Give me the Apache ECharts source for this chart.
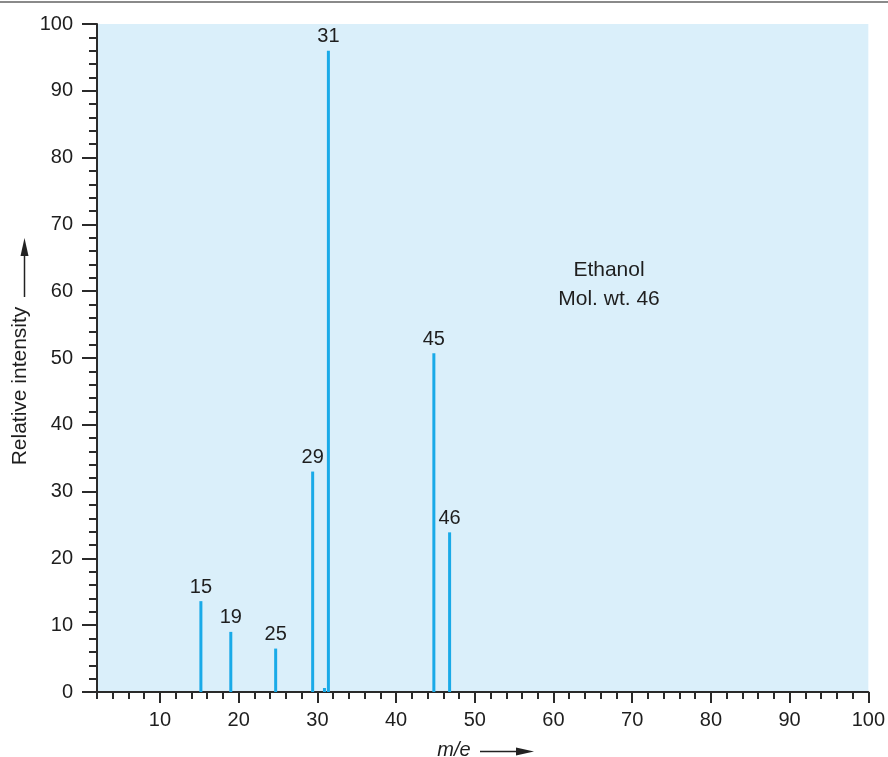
<!DOCTYPE html>
<html>
<head>
<meta charset="utf-8">
<script src="https://cdn.jsdelivr.net/npm/echarts@6/dist/echarts.min.js"></script>
<style>html,body{margin:0;padding:0;background:#fff}#c{width:888px;height:757px}</style>
</head>
<body>
<div id="c"></div>
<script>
// m/e positions as drawn, relative intensities, and peak labels
const peakX = [15.2, 19.0, 24.7, 29.4, 30.9, 31.4, 44.8, 46.8];
const peakY = [13.6, 9.0, 6.5, 33.0, 0.6, 96.0, 50.7, 23.9];
const peakLabels = ['15', '19', '25', '29', '', '31', '45', '46'];
const xMajorTicks = [10, 20, 30, 40, 50, 60, 70, 80, 90, 100];
const annotation = ['Ethanol', 'Mol. wt. 46'];

const FONT = '"Liberation Sans", Arial, Helvetica, sans-serif';
const AXIS = '#2a2a2a';
const TXT = '#1e1e1e';
const chart = echarts.init(document.getElementById('c'), null, {renderer: 'canvas'});

chart.setOption({
  animation: false,
  backgroundColor: '#ffffff',
  grid: {left: 97, right: 19, top: 24, bottom: 65, show: true, backgroundColor: '#daeffa', borderWidth: 0},
  xAxis: [
    {
      type: 'value', min: 2, max: 100, interval: 2,
      axisLine: {show: true, onZero: false, lineStyle: {color: AXIS, width: 2}},
      axisTick: {show: true, length: 7, lineStyle: {color: AXIS, width: 2}},
      axisLabel: {show: false},
      splitLine: {show: false}
    },
    {
      type: 'value', min: 2, max: 100, position: 'bottom',
      axisLine: {show: false},
      axisTick: {show: true, length: 11, customValues: xMajorTicks, lineStyle: {color: AXIS, width: 2}},
      axisLabel: {show: true, customValues: xMajorTicks, margin: 18, fontSize: 20, color: TXT, fontFamily: FONT},
      splitLine: {show: false}
    }
  ],
  yAxis: {
    type: 'value', min: 0, max: 100, interval: 10,
    axisLine: {show: true, lineStyle: {color: AXIS, width: 2}},
    axisTick: {show: true, length: 15, lineStyle: {color: AXIS, width: 2}},
    minorTick: {show: true, splitNumber: 5, length: 8, lineStyle: {color: AXIS, width: 2}},
    axisLabel: {margin: 24, fontSize: 20, color: TXT, fontFamily: FONT},
    splitLine: {show: false}
  },
  series: [{
    type: 'bar',
    xAxisIndex: 0,
    barWidth: 3,
    itemStyle: {color: '#19aae8'},
    data: peakX.map((x, i) => [x, peakY[i]]),
    label: {
      show: true, position: 'top', distance: 4,
      fontSize: 20, color: TXT, fontFamily: FONT,
      formatter: p => peakLabels[p.dataIndex]
    }
  }],
  graphic: [
    {type: 'line', shape: {x1: 0, y1: 2, x2: 888, y2: 2}, style: {stroke: '#8a8a8a', lineWidth: 2}},
    {type: 'text', x: 609, y: 270, style: {text: annotation[0], font: '21px ' + FONT, fill: TXT, textAlign: 'center', textVerticalAlign: 'middle'}},
    {type: 'text', x: 609, y: 299, style: {text: annotation[1], font: '21px ' + FONT, fill: TXT, textAlign: 'center', textVerticalAlign: 'middle'}},
    {type: 'text', x: 20, y: 386, rotation: Math.PI / 2, style: {text: 'Relative intensity', font: '21px ' + FONT, fill: TXT, textAlign: 'center', textVerticalAlign: 'middle'}},
    {type: 'line', shape: {x1: 24.5, y1: 297, x2: 24.5, y2: 248}, style: {stroke: '#222', lineWidth: 1.5}},
    {type: 'polygon', shape: {points: [[24.5, 238], [20.5, 256], [28.5, 256]]}, style: {fill: '#222'}},
    {type: 'text', x: 454, y: 750, style: {text: 'm/e', font: 'italic 20px ' + FONT, fill: TXT, textAlign: 'center', textVerticalAlign: 'middle'}},
    {type: 'line', shape: {x1: 480, y1: 751.5, x2: 525, y2: 751.5}, style: {stroke: '#222', lineWidth: 1.5}},
    {type: 'polygon', shape: {points: [[534, 751.5], [516, 747.5], [516, 755.5]]}, style: {fill: '#222'}}
  ]
});
</script>
</body>
</html>
